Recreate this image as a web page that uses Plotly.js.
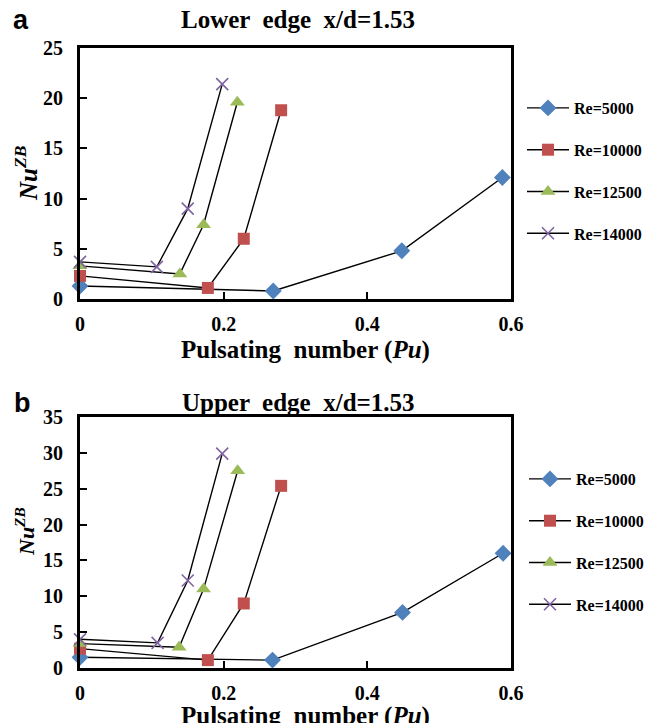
<!DOCTYPE html>
<html>
<head>
<meta charset="utf-8">
<script src="https://cdn.plot.ly/plotly-3.0.1.min.js"></script>
<style>html,body{margin:0;padding:0;background:#fff;}#chart{width:662px;height:723px;}</style>
</head>
<body>
<div id="chart"></div>
<script>
// ---- Data ----
const seriesNames = ['Re=5000', 'Re=10000', 'Re=12500', 'Re=14000'];

// (a) Lower edge x/d=1.53
const lowerPu5000  = [0, 0.269, 0.448, 0.588];
const lowerNu5000  = [1.3, 0.8, 4.8, 12.1];
const lowerPu10000 = [0, 0.178, 0.228, 0.280];
const lowerNu10000 = [2.3, 1.1, 6.0, 18.8];
const lowerPu12500 = [0, 0.139, 0.172, 0.219];
const lowerNu12500 = [3.3, 2.5, 7.4, 19.6];
const lowerPu14000 = [0, 0.107, 0.150, 0.198];
const lowerNu14000 = [3.7, 3.2, 9.0, 21.4];

// (b) Upper edge x/d=1.53
const upperPu5000  = [0, 0.268, 0.449, 0.589];
const upperNu5000  = [1.5, 1.1, 7.75, 16.0];
const upperPu10000 = [0, 0.178, 0.228, 0.280];
const upperNu10000 = [2.7, 1.1, 9.0, 25.4];
const upperPu12500 = [0, 0.138, 0.172, 0.2195];
const upperNu12500 = [3.4, 2.9, 11.0, 27.5];
const upperPu14000 = [0, 0.108, 0.150, 0.198];
const upperNu14000 = [4.0, 3.5, 12.2, 29.9];

const xTickVals = [0, 0.2, 0.4, 0.6];
const xTickText = ['0', '0.2', '0.4', '0.6'];
const lowerYTicks = [0, 5, 10, 15, 20, 25];
const upperYTicks = [0, 5, 10, 15, 20, 25, 30, 35];

// ---- Styles ----
const serif = 'Liberation Serif, Times New Roman, serif';
const markerStyles = [
  {symbol: 'diamond', color: '#4f81bd', size: 13},
  {symbol: 'square', color: '#c0504d', size: 12},
  {symbol: 'triangle-up', color: '#9bbb59', size: 13},
  {symbol: 'x-thin-open', color: '#8064a2', size: 12, line: {color: '#8064a2', width: 1.6}}
];

function mk(x, y, i, xa, ya, leg) {
  const m = Object.assign({}, markerStyles[i]);
  if (!m.line) m.line = {width: 0};
  return {
    type: 'scatter', mode: 'lines+markers', x: x, y: y,
    name: seriesNames[i], xaxis: xa, yaxis: ya, legend: leg,
    legendgroup: leg + i,
    line: {color: '#000', width: 1.4},
    marker: m, cliponaxis: false
  };
}

const data = [
  mk(lowerPu5000, lowerNu5000, 0, 'x', 'y', 'legend'),
  mk(lowerPu10000, lowerNu10000, 1, 'x', 'y', 'legend'),
  mk(lowerPu12500, lowerNu12500, 2, 'x', 'y', 'legend'),
  mk(lowerPu14000, lowerNu14000, 3, 'x', 'y', 'legend'),
  mk(upperPu5000, upperNu5000, 0, 'x2', 'y2', 'legend2'),
  mk(upperPu10000, upperNu10000, 1, 'x2', 'y2', 'legend2'),
  mk(upperPu12500, upperNu12500, 2, 'x2', 'y2', 'legend2'),
  mk(upperPu14000, upperNu14000, 3, 'x2', 'y2', 'legend2')
];

const W = 662, H = 723;
const px = v => v / W;
const py = v => 1 - v / H;

function xaxisDef(anchor) {
  return {
    domain: [px(80), px(511)], anchor: anchor,
    range: [0, 0.6], tickvals: xTickVals, ticktext: xTickText,
    showgrid: false, zeroline: false,
    showline: true, linecolor: '#000', linewidth: 3, mirror: true,
    ticks: 'inside', ticklen: 7, tickwidth: 2, tickcolor: '#000',
    ticklabelstandoff: 5,
    tickfont: {family: serif, size: 20, color: '#000', weight: 'bold'}
  };
}
function yaxisDef(anchor, top, bottom, max, ticks) {
  return {
    domain: [py(bottom), py(top)], anchor: anchor,
    range: [0, max], tickvals: ticks,
    showgrid: false, zeroline: false,
    showline: true, linecolor: '#000', linewidth: 3, mirror: true,
    ticks: 'inside', ticklen: 7, tickwidth: 2, tickcolor: '#000',
    ticklabelstandoff: 10,
    tickfont: {family: serif, size: 20, color: '#000', weight: 'bold'}
  };
}

const legFont = {family: serif, size: 16, color: '#000', weight: 'bold'};
function legendDef(xp, yp) {
  return {
    x: px(xp), y: py(yp), xanchor: 'left', yanchor: 'top',
    font: legFont, traceorder: 'grouped', tracegroupgap: 18,
    itemwidth: 42,
    bgcolor: 'rgba(0,0,0,0)', borderwidth: 0
  };
}

const bf = (size) => ({family: serif, size: size, color: '#000', weight: 'bold'});
function ann(text, x, y, font, extra) {
  return Object.assign({text: text, x: px(x), y: py(y), xref: 'paper', yref: 'paper',
    xanchor: 'center', yanchor: 'middle', showarrow: false, font: font}, extra || {});
}
const sans = (size) => ({family: 'Liberation Sans, Arial, sans-serif', size: size, color: '#000', weight: 'bold'});

const layout = {
  width: W, height: H,
  margin: {l: 0, r: 0, t: 0, b: 0},
  paper_bgcolor: '#fff', plot_bgcolor: '#fff',
  showlegend: true,
  xaxis: xaxisDef('y'),
  yaxis: yaxisDef('x', 48, 299, 25, lowerYTicks),
  xaxis2: xaxisDef('y2'),
  yaxis2: yaxisDef('x2', 417, 668, 35, upperYTicks),
  legend: legendDef(522, 91),
  legend2: legendDef(524, 462),
  annotations: [
    ann('a', 21, 20, sans(27)),
    ann('b', 22, 403, sans(27)),
    ann('Lower  edge  x/d=1.53', 298, 19, bf(25)),
    ann('Upper  edge  x/d=1.53', 298, 402, bf(25)),
    ann('Pulsating  number (<i>Pu</i>)', 305, 350, bf(25)),
    ann('Pulsating  number (<i>Pu</i>)', 305, 716, bf(25)),
    ann('<i>Nu</i><sup><i>ZB</i></sup>', 26, 173, bf(25), {textangle: -90}),
    ann('<i>Nu</i><sup><i>ZB</i></sup>', 25, 532, bf(22), {textangle: -90})
  ]
};

Plotly.newPlot('chart', data, layout, {staticPlot: true, displayModeBar: false});
</script>
</body>
</html>
